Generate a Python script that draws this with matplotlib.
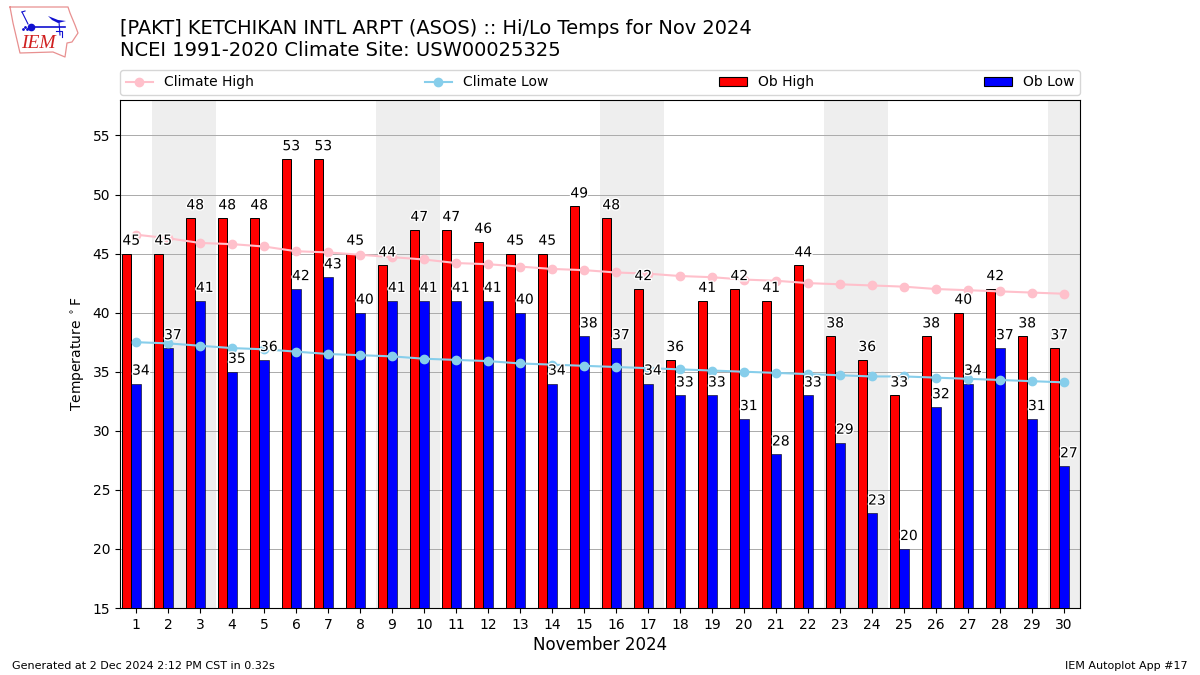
import matplotlib
matplotlib.use("Agg")
import matplotlib.pyplot as plt
import matplotlib.patheffects as pe

days = list(range(1, 31))
ob_high = [45, 45, 48, 48, 48, 53, 53, 45, 44, 47, 47, 46, 45, 45, 49,
           48, 42, 36, 41, 42, 41, 44, 38, 36, 33, 38, 40, 42, 38, 37]
ob_low = [34, 37, 41, 35, 36, 42, 43, 40, 41, 41, 41, 41, 40, 34, 38,
          37, 34, 33, 33, 31, 28, 33, 29, 23, 20, 32, 34, 37, 31, 27]
climate_high = [46.6, 46.3, 45.9, 45.8, 45.6, 45.2, 45.1, 44.9, 44.7, 44.5,
                44.2, 44.1, 43.9, 43.7, 43.6, 43.4, 43.3, 43.1, 43.0, 42.8,
                42.7, 42.5, 42.4, 42.3, 42.2, 42.0, 41.9, 41.8, 41.7, 41.6]
climate_low = [37.5, 37.4, 37.2, 37.0, 36.9, 36.7, 36.5, 36.4, 36.3, 36.1,
               36.0, 35.9, 35.7, 35.6, 35.5, 35.4, 35.3, 35.2, 35.1, 35.0,
               34.9, 34.8, 34.7, 34.6, 34.6, 34.5, 34.4, 34.3, 34.2, 34.1]
weekend_days = [2, 3, 9, 10, 16, 17, 23, 24, 30]

fig = plt.figure(figsize=(12, 6.75), dpi=100)
ax = fig.add_axes([120 / 1200, 1 - 608 / 675, 960 / 1200, 508 / 675])

for d in weekend_days:
    ax.axvspan(d - 0.5, d + 0.5, color="#eeeeee", lw=0, zorder=0)

ax.plot(days, climate_high, marker="o", color="pink", label="Climate High", zorder=4)
ax.plot(days, climate_low, marker="o", color="skyblue", label="Climate Low", zorder=4)
ax.bar(days, ob_low, width=0.3, color="blue", edgecolor="k", linewidth=0.4,
       label="Ob Low", zorder=3)
ax.bar([d - 0.3 for d in days], ob_high, width=0.3, color="red", edgecolor="k", linewidth=0.7,
       label="Ob High", zorder=3)

halo = [pe.withStroke(linewidth=2, foreground="white")]
for d, hi, lo in zip(days, ob_high, ob_low):
    ax.text(d - 0.15, hi + 0.5, str(hi), ha="center", va="bottom", fontsize=10,
            path_effects=halo, zorder=5)
    ax.text(d + 0.15, lo + 0.5, str(lo), ha="center", va="bottom", fontsize=10,
            path_effects=halo, zorder=5)

ax.set_xlim(0.5, 30.5)
ax.set_ylim(15, 58)
ax.set_xticks(days)
ax.set_yticks(range(15, 60, 5))
ax.yaxis.grid(True, color="#aaaaaa", lw=0.7)
ax.set_axisbelow(True)
ax.tick_params(labelsize=10)
ax.set_xlabel("November 2024", fontsize=12, labelpad=3)
ax.set_ylabel(r"Temperature $^\circ$F", fontsize=10)

handles, labels = ax.get_legend_handles_labels()
order = [labels.index(n) for n in ["Climate High", "Climate Low", "Ob High", "Ob Low"]]
leg = ax.legend([handles[i] for i in order], [labels[i] for i in order],
                loc="lower left", bbox_to_anchor=(0, 1.01, 1, 0.05), mode="expand", ncol=4,
                borderaxespad=0, fontsize=10)
for p in leg.get_patches():
    p.set_linewidth(0.8)

fig.text(120 / 1200, 1 - 29 / 675, "[PAKT] KETCHIKAN INTL ARPT (ASOS) :: Hi/Lo Temps for Nov 2024",
         fontsize=13.95, va="center")
fig.text(120 / 1200, 1 - 50 / 675, "NCEI 1991-2020 Climate Site: USW00025325",
         fontsize=14, va="center")
fig.text(12 / 1200, 1 - 666 / 675, "Generated at 2 Dec 2024 2:12 PM CST in 0.32s",
         fontsize=8, va="center")
fig.text(1188 / 1200, 1 - 666 / 675, "IEM Autoplot App #17", fontsize=8, ha="right", va="center")

# logo, rough redraw in pixel coordinates
logo = fig.add_axes([0, 1 - 65 / 675, 90 / 1200, 65 / 675])
logo.set_xlim(0, 90)
logo.set_ylim(65, 0)
logo.axis("off")
logo.plot([10, 68, 70, 75, 78, 72, 67, 65, 53, 20, 17, 13, 10],
          [7, 7, 13, 25, 33, 42, 43, 57, 52, 53, 40, 23, 7], color="#e89090", lw=0.9)
blue = "#1010d0"
logo.plot([31, 65], [27, 27], color=blue, lw=1.2)
logo.plot([31], [27], "o", color=blue, ms=4.5)
logo.plot([22, 28], [12, 24], color=blue, lw=0.8)
logo.plot([22, 25], [12, 11], color=blue, lw=0.8)
logo.fill([48, 58, 66, 58, 52], [16, 20, 21, 23, 20], color=blue, lw=0)
logo.plot([59, 60], [22, 35], color=blue, lw=0.8)
logo.plot([56, 62, 62], [31, 31, 37], color=blue, lw=0.8)
logo.plot([23, 25, 27], [29, 27, 29], ".", color=blue, ms=2)
logo.text(21, 44, "IEM", family="Liberation Serif", style="italic", color="#d02020",
          fontsize=14, va="center")

fig.savefig("out.png", dpi=100)
